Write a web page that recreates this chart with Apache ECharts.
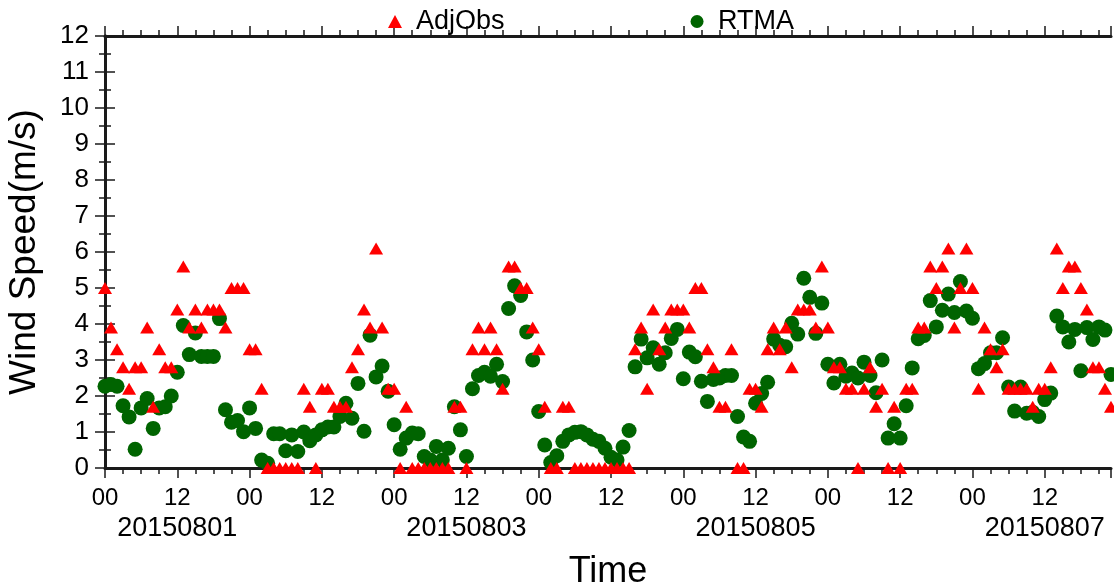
<!DOCTYPE html>
<html>
<head>
<meta charset="utf-8">
<script src="https://cdn.jsdelivr.net/npm/echarts@6/dist/echarts.min.js"></script>
<style>
html,body{margin:0;padding:0;background:#fff;}
#chart{width:1114px;height:584px;}
</style>
</head>
<body>
<div id="chart"></div>
<script>
// Hourly series starting 2015080100
const seriesNames = ['AdjObs', 'RTMA'];
const adjObs = [
5.0,3.9,3.3,2.8,2.2,2.8,2.8,3.9,1.7,3.3,2.8,2.8,4.4,5.6,3.9,4.4,3.9,4.4,4.4,4.4,3.9,5.0,5.0,5.0,
3.3,3.3,2.2,0,0,0,0,0,0,2.2,1.7,0,2.2,2.2,1.7,1.7,1.7,2.8,3.3,4.4,3.9,6.1,3.9,2.2,
2.2,0,1.7,0,0,0,0,0,0,0,1.7,1.7,0,3.3,3.9,3.3,3.9,3.3,2.2,5.6,5.6,5.0,5.0,3.9,
3.3,1.7,0,0,1.7,1.7,0,0,0,0,0,0,0,0,0,0,3.3,3.9,2.2,4.4,3.3,3.9,4.4,4.4,
4.4,3.9,5.0,5.0,3.3,2.8,1.7,1.7,3.3,0,0,2.2,2.2,1.7,3.3,3.9,3.3,3.9,2.8,4.4,4.4,4.4,3.9,5.6,
3.9,2.8,2.8,2.2,2.2,0,2.2,2.8,1.7,2.2,0,1.7,0,2.2,2.2,3.9,3.9,5.6,5.0,5.6,6.1,3.9,5.0,6.1,
5.0,2.2,3.9,3.3,2.8,3.3,2.2,2.2,2.2,2.2,1.7,2.2,2.2,2.8,6.1,5.0,5.6,5.6,5.0,4.4,2.8,2.8,2.2,1.7
];
const rtma = [
2.27,2.32,2.27,1.73,1.42,0.52,1.67,1.93,1.1,1.67,1.7,2.0,2.66,3.96,3.15,3.75,3.1,3.1,3.1,4.15,1.62,1.27,1.32,1.01,
1.67,1.1,0.22,0.13,0.95,0.95,0.48,0.92,0.46,1.0,0.76,0.92,1.06,1.14,1.14,1.43,1.8,1.38,2.35,1.02,3.69,2.53,2.83,2.13,
1.2,0.52,0.83,0.97,0.95,0.32,0.22,0.6,0.22,0.55,1.7,1.06,0.32,2.2,2.57,2.66,2.55,2.88,2.4,4.43,5.06,4.79,3.78,3.0,
1.57,0.64,0.15,0.34,0.74,0.92,0.99,1.01,0.92,0.8,0.74,0.55,0.3,0.22,0.58,1.04,2.81,3.58,3.06,3.34,2.88,3.2,3.6,3.85,
2.48,3.22,3.09,2.41,1.85,2.46,2.5,2.57,2.57,1.43,0.86,0.74,1.8,2.07,2.38,3.58,3.41,3.37,4.02,3.72,5.27,4.74,3.74,4.58,
2.88,2.36,2.88,2.55,2.64,2.5,2.94,2.57,2.09,3.0,0.83,1.23,0.83,1.73,2.78,3.59,3.68,4.65,3.92,4.38,4.83,4.32,5.18,4.36,
4.16,2.76,2.9,3.2,3.2,3.62,2.25,1.58,2.25,1.52,1.55,1.43,1.9,2.08,4.22,3.92,3.5,3.85,2.7,3.9,3.57,3.92,3.83,2.6
];
const hourLabels = ['00', '12'];
const dateLabelHours = [12, 60, 108, 156];
const dateLabels = ['20150801', '20150803', '20150805', '20150807'];
const yTickLabels = ['0','1','2','3','4','5','6','7','8','9','10','11','12'];

const FONT = 'Liberation Sans';
const AXC = '#1a1a1a';
const toPairs = arr => arr.map((v, i) => [i, v]);

const chart = echarts.init(document.getElementById('chart'), null, {renderer: 'canvas'});

const axisBase = {
  type: 'value', min: 0, max: 167, interval: 12,
  axisLine: {show: true, onZero: false, lineStyle: {color: AXC, width: 3}},
  axisTick: {show: true, length: 10, lineStyle: {color: AXC, width: 1.5}},
  minorTick: {show: true, splitNumber: 4, length: 6, lineStyle: {color: AXC, width: 1.5}},
  splitLine: {show: false}, minorSplitLine: {show: false}
};

chart.setOption({
  animation: false,
  backgroundColor: '#fff',
  textStyle: {fontFamily: FONT},
  grid: {left: 105, right: 3, top: 36, bottom: 116, outerBoundsMode: 'none', containLabel: false},
  legend: {
    data: seriesNames,
    left: 383, top: 3,
    itemGap: 186,
    itemWidth: 14, itemHeight: 13,
    textStyle: {fontFamily: FONT, fontSize: 27, color: '#000', padding: [0, 0, 0, 9]}
  },
  xAxis: [
    Object.assign({}, axisBase, {
      position: 'bottom',
      name: 'Time', nameLocation: 'middle', nameGap: 86,
      nameTextStyle: {fontFamily: FONT, fontSize: 36, color: '#000'},
      axisLabel: {
        show: true, margin: 18, color: '#000', fontFamily: FONT, fontSize: 24,
        showMinLabel: true, showMaxLabel: false, hideOverlap: false,
        formatter: v => hourLabels[(v % 24) / 12]
      }
    }),
    Object.assign({}, axisBase, {position: 'top', axisLabel: {show: false}}),
    {
      type: 'value', min: 0, max: 167, interval: 12, position: 'bottom',
      axisLine: {show: false, onZero: false}, axisTick: {show: false},
      splitLine: {show: false},
      axisLabel: {
        show: true, margin: 47, color: '#000', fontFamily: FONT, fontSize: 27,
        showMinLabel: true, showMaxLabel: false, hideOverlap: false,
        formatter: function (v) {
          const k = dateLabelHours.indexOf(v);
          return k >= 0 ? dateLabels[k] : '';
        }
      }
    }
  ],
  yAxis: [
    {
      type: 'value', min: 0, max: 12, interval: 1,
      name: 'Wind Speed(m/s)', nameLocation: 'middle', nameGap: 62,
      nameTextStyle: {fontFamily: FONT, fontSize: 37, color: '#000'},
      axisLine: {show: true, lineStyle: {color: AXC, width: 3}},
      axisTick: {show: true, length: 10, lineStyle: {color: AXC, width: 1.5}},
      minorTick: {show: true, splitNumber: 2, length: 6, lineStyle: {color: AXC, width: 1.5}},
      axisLabel: {margin: 16, color: '#000', fontFamily: FONT, fontSize: 26,
        showMinLabel: true, hideOverlap: false,
        formatter: v => yTickLabels[v]},
      splitLine: {show: false}
    },
    {
      type: 'value', min: 0, max: 12, interval: 1, position: 'right',
      axisLine: {show: true, lineStyle: {color: AXC, width: 3}},
      axisTick: {show: true, length: 10, lineStyle: {color: AXC, width: 1.5}},
      minorTick: {show: true, splitNumber: 2, length: 6, lineStyle: {color: AXC, width: 1.5}},
      axisLabel: {show: false}, splitLine: {show: false}
    }
  ],
  series: [
    {
      name: 'RTMA', type: 'scatter', clip: false, z: 2,
      symbol: 'circle', symbolSize: 15,
      itemStyle: {color: '#006400', opacity: 1},
      data: toPairs(rtma)
    },
    {
      name: 'AdjObs', type: 'scatter', clip: false, z: 3,
      symbol: 'triangle', symbolSize: [14, 12],
      itemStyle: {color: '#ff0000', opacity: 1},
      data: toPairs(adjObs)
    }
  ]
});
</script>
</body>
</html>
